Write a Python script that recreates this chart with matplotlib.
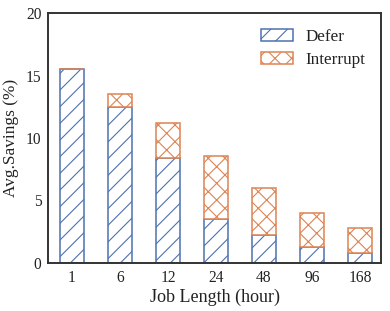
import matplotlib
matplotlib.use("Agg")
import matplotlib.pyplot as plt
import numpy as np

categories = ["1", "6", "12", "24", "48", "96", "168"]
defer = [15.5, 12.5, 8.4, 3.5, 2.2, 1.3, 0.75]
interrupt = [0.0, 1.0, 2.8, 5.1, 3.8, 2.7, 2.0]

blue = "#4C72B0"
orange = "#DD8452"

plt.rcParams['font.family'] = ['Liberation Serif', 'DejaVu Serif']
plt.rcParams['hatch.linewidth'] = 0.8

fig = plt.figure(figsize=(3.9, 3.11), dpi=100)
ax = fig.add_axes([0.124, 0.155, 0.853, 0.802])

x = np.arange(len(categories))
w = 0.51
ax.bar(x, defer, w, color='white', edgecolor=blue, hatch='//', linewidth=1.1, label='Defer')
ax.bar(x, interrupt, w, bottom=defer, color='white', edgecolor=orange, hatch='xx', linewidth=1.1, label='Interrupt')

ax.set_xlim(-0.49, 6.44)
ax.set_ylim(0, 20)
ax.set_yticks([0, 5, 10, 15, 20])
ax.set_xticks(x)
ax.set_xticklabels(categories)
ax.tick_params(axis='both', length=0, labelsize=11.2, colors='#222222', pad=5)
ax.set_xlabel("Job Length (hour)", fontsize=13, color='#222222', labelpad=2)
ax.set_ylabel("Avg.Savings (%)", fontsize=12.4, color='#222222', labelpad=5)
for s in ax.spines.values():
    s.set_color('#333333')
    s.set_linewidth(1.4)

ax.legend(loc='upper right', bbox_to_anchor=(1.0, 1.0), frameon=False, fontsize=12.3,
          handlelength=1.9, handleheight=0.7, handletextpad=0.75, labelspacing=0.4,
          labelcolor='#222222')

fig.savefig("out.png", dpi=100)
